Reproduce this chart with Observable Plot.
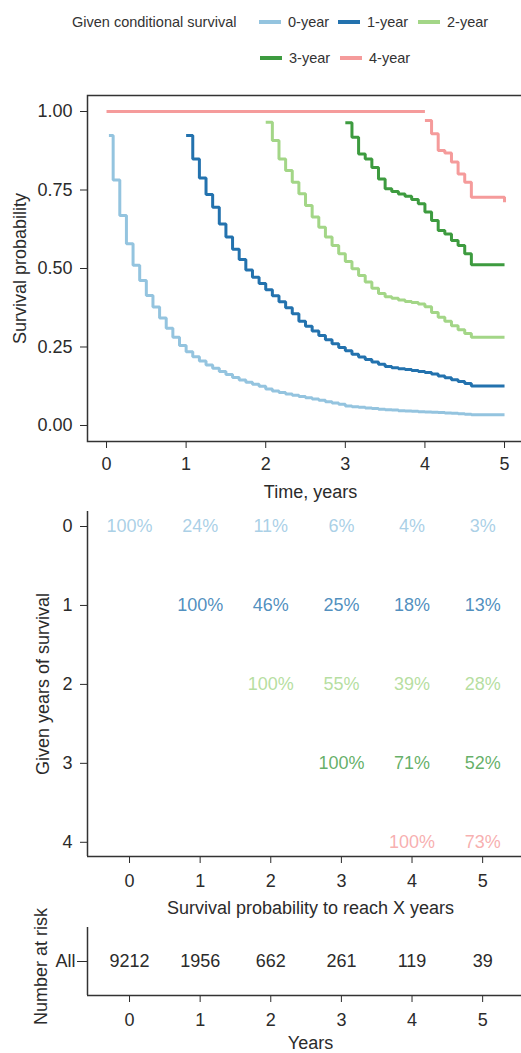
<!DOCTYPE html>
<html><head><meta charset="utf-8">
<script src="https://cdn.jsdelivr.net/npm/d3@7"></script>
<script src="https://cdn.jsdelivr.net/npm/@observablehq/plot@0.6"></script>
<style>
html,body{margin:0;padding:0;background:#fff}
body{width:521px;height:1053px;overflow:hidden;position:relative;font-family:"Liberation Sans",Arial,Helvetica,sans-serif;color:#2b2b2b}
.panel{position:absolute;left:0;width:545px}
.lg{position:absolute;height:20px;line-height:20px;font-size:14.5px;white-space:nowrap;color:#333}
.sw{position:absolute;height:4px;width:22px}
</style></head><body>
<div id="legend"></div>
<div id="p1" class="panel" style="top:80px"></div>
<div id="p2" class="panel" style="top:505px"></div>
<div id="p3" class="panel" style="top:925px"></div>
<script>
// ---- data ----
const seriesNames = ["0-year", "1-year", "2-year", "3-year", "4-year"];
const seriesColors = ["#94c4df", "#2372ae", "#a3d687", "#3d9b3f", "#f59b9b"];
const legendTitle = "Given conditional survival";
// start time of each curve (years) and month index of its first value
const startTimes = [0.03, 1, 2, 3, 4];
const startMonths = [0, 12, 24, 36, 48];
// survival values, one per month after the start (step curves)
const surv0 = [0.924, 0.782, 0.669, 0.579, 0.510, 0.462, 0.414, 0.377, 0.342, 0.310, 0.281, 0.255,
  0.235, 0.219, 0.205, 0.193, 0.182, 0.172, 0.162, 0.153, 0.145, 0.138, 0.131, 0.125,
  0.116, 0.110, 0.105, 0.100, 0.096, 0.092, 0.088, 0.084, 0.080, 0.076, 0.072, 0.068,
  0.062, 0.060, 0.058, 0.056, 0.054, 0.052, 0.050, 0.049, 0.047, 0.046, 0.045, 0.044,
  0.043, 0.042, 0.041, 0.040, 0.039, 0.037, 0.036, 0.034];
const surv1 = [0.924, 0.849, 0.788, 0.736, 0.695, 0.642, 0.600, 0.561, 0.529, 0.495, 0.472, 0.452,
  0.432, 0.413, 0.394, 0.375, 0.356, 0.332, 0.316, 0.301, 0.287, 0.273, 0.260, 0.248,
  0.238, 0.227, 0.218, 0.210, 0.202, 0.195, 0.188, 0.184, 0.181, 0.178, 0.175, 0.172,
  0.169, 0.164, 0.158, 0.152, 0.146, 0.140, 0.134, 0.126];
const surv2 = [0.966, 0.908, 0.849, 0.812, 0.775, 0.738, 0.701, 0.664, 0.631, 0.600, 0.573, 0.547,
  0.522, 0.499, 0.478, 0.457, 0.437, 0.420, 0.410, 0.405, 0.400, 0.395, 0.392, 0.387,
  0.378, 0.360, 0.345, 0.332, 0.318, 0.305, 0.293, 0.281];
const surv3 = [0.964, 0.918, 0.865, 0.849, 0.822, 0.785, 0.754, 0.745, 0.737, 0.730, 0.720, 0.706,
  0.680, 0.653, 0.621, 0.610, 0.589, 0.573, 0.547, 0.512];
const surv4 = [0.971, 0.929, 0.876, 0.868, 0.839, 0.801, 0.775, 0.727];
const finalValues = [0.034, 0.126, 0.281, 0.512, 0.711]; // value at 5 years
const endTime = 5;
const flat4Value = 1.0;   // 4-year curve before year 4
const flat4End = 4;

const yearTicks = [0, 1, 2, 3, 4, 5];
const probTicks = [0, 0.25, 0.5, 0.75, 1];
const givenYears = [0, 1, 2, 3, 4];
const condPct = [
  [100, 24, 11, 6, 4, 3],
  [100, 46, 25, 18, 13],
  [100, 55, 39, 28],
  [100, 71, 52],
  [100, 73]
];
const riskLabel = "All";
const atRisk = [9212, 1956, 662, 261, 119, 39];

// ---- build tables ----
const survAll = [surv0, surv1, surv2, surv3, surv4];
const curveRows = [];
survAll.forEach((vals, s) => {
  vals.forEach((v, i) => curveRows.push({
    series: seriesNames[s], seg: seriesNames[s],
    t: i === 0 ? startTimes[s] : (startMonths[s] + i) / 12, p: v
  }));
  curveRows.push({series: seriesNames[s], seg: seriesNames[s], t: endTime, p: finalValues[s]});
});
curveRows.push({series: "4-year", seg: "4-year-flat", t: 0, p: flat4Value});
curveRows.push({series: "4-year", seg: "4-year-flat", t: flat4End, p: flat4Value});

const condRows = [];
condPct.forEach((row, g) => row.forEach((v, j) => condRows.push({
  given: givenYears[g], year: yearTicks[g + j], label: v + "%", series: seriesNames[g]
})));
const riskRows = atRisk.map((n, i) => ({year: yearTicks[i], row: 0, n: String(n)}));

// ---- legend (HTML) ----
const lg = document.getElementById("legend");
function addText(txt, left, cy) {
  const d = document.createElement("div");
  d.className = "lg"; d.textContent = txt;
  d.style.left = left + "px"; d.style.top = (cy - 10) + "px";
  lg.appendChild(d);
}
function addSwatch(color, left, cy) {
  const d = document.createElement("div");
  d.className = "sw"; d.style.background = color;
  d.style.left = left + "px"; d.style.top = (cy - 2) + "px";
  lg.appendChild(d);
}
addText(legendTitle, 72, 22);
const legendPos = [[259, 22], [338, 22], [418, 22], [260, 58], [340, 58]];
seriesNames.forEach((n, i) => {
  const [x, cy] = legendPos[i];
  addSwatch(seriesColors[i], x, cy);
  addText(n, x + 29, cy);
});

// ---- plots ----
const FONT = '"Liberation Sans", Arial, Helvetica, sans-serif';
const baseStyle = {fontFamily: FONT, fontSize: "18px", color: "#2b2b2b", background: "transparent", maxWidth: "none", overflow: "visible"};
const AX = "#333";
const xDomTop = [-0.239, 5.364];
const xDomLow = [-0.595, 5.72];
const intFmt = d3.format("d");

const p1 = Plot.plot({
  width: 545, height: 425, marginTop: 15, marginBottom: 64, marginLeft: 87, marginRight: 12,
  style: baseStyle,
  x: {domain: xDomTop, ticks: yearTicks, tickFormat: intFmt, tickSize: 7, tickPadding: 9, label: null},
  y: {domain: [-0.051, 1.051], ticks: probTicks, tickFormat: d3.format(".2f"), tickSize: 7, tickPadding: 8, label: null},
  color: {domain: seriesNames, range: seriesColors},
  marks: [
    Plot.line(curveRows, {x: "t", y: "p", z: "seg", stroke: "series", curve: "step-after",
      strokeWidth: 3, strokeLinecap: "butt", strokeLinejoin: "miter"}),
    Plot.frame({stroke: AX, strokeWidth: 1.5}),
    Plot.text(["Time, years"], {frameAnchor: "bottom", dy: 51, lineAnchor: "middle", textAnchor: "middle", fontSize: 18, fill: "#2b2b2b"}),
    Plot.text(["Survival probability"], {frameAnchor: "left", dx: -67, rotate: -90, lineAnchor: "middle", textAnchor: "middle", fontSize: 18, fill: "#2b2b2b"})
  ]
});
document.getElementById("p1").appendChild(p1);

const p2 = Plot.plot({
  width: 545, height: 420, marginTop: 6, marginBottom: 69, marginLeft: 87, marginRight: 12,
  style: baseStyle,
  x: {domain: xDomLow, ticks: yearTicks, tickFormat: intFmt, tickSize: 7, tickPadding: 11, label: null},
  y: {domain: [-0.19, 4.18], reverse: true, ticks: givenYears, tickFormat: intFmt, tickSize: 7, tickPadding: 8, label: null},
  color: {domain: seriesNames, range: seriesColors},
  marks: [
    Plot.ruleX([xDomLow[0]], {stroke: AX, strokeWidth: 1.5}),
    Plot.ruleY([4.18], {stroke: AX, strokeWidth: 1.5}),
    Plot.text(condRows, {x: "year", y: "given", text: "label", fill: "series", fillOpacity: 0.8, fontSize: 18, lineAnchor: "middle"}),
    Plot.text(["Survival probability to reach X years"], {frameAnchor: "bottom", dy: 52, lineAnchor: "middle", textAnchor: "middle", fontSize: 18, fill: "#2b2b2b"}),
    Plot.text(["Given years of survival"], {frameAnchor: "left", dx: -44, rotate: -90, lineAnchor: "middle", textAnchor: "middle", fontSize: 18, fill: "#2b2b2b"})
  ]
});
document.getElementById("p2").appendChild(p2);

const p3 = Plot.plot({
  width: 545, height: 128, marginTop: 2, marginBottom: 58, marginLeft: 87, marginRight: 12,
  style: baseStyle,
  x: {domain: xDomLow, ticks: yearTicks, tickFormat: intFmt, tickSize: 7, tickPadding: 11, label: null},
  y: {domain: [-1, 1], ticks: [0], tickFormat: () => riskLabel, tickSize: 10, tickPadding: 2, label: null},
  marks: [
    Plot.ruleX([xDomLow[0]], {stroke: AX, strokeWidth: 1.5}),
    Plot.ruleY([-1], {stroke: AX, strokeWidth: 1.5}),
    Plot.text(riskRows, {x: "year", y: "row", text: "n", fontSize: 18, fill: "#2b2b2b", lineAnchor: "middle"}),
    Plot.text(["Years"], {frameAnchor: "bottom", dy: 48, lineAnchor: "middle", textAnchor: "middle", fontSize: 18, fill: "#2b2b2b"}),
    Plot.text(["Number at risk"], {frameAnchor: "left", dx: -46, dy: 5, rotate: -90, lineAnchor: "middle", textAnchor: "middle", fontSize: 18, fill: "#2b2b2b"})
  ]
});
document.getElementById("p3").appendChild(p3);
</script>
</body></html>
